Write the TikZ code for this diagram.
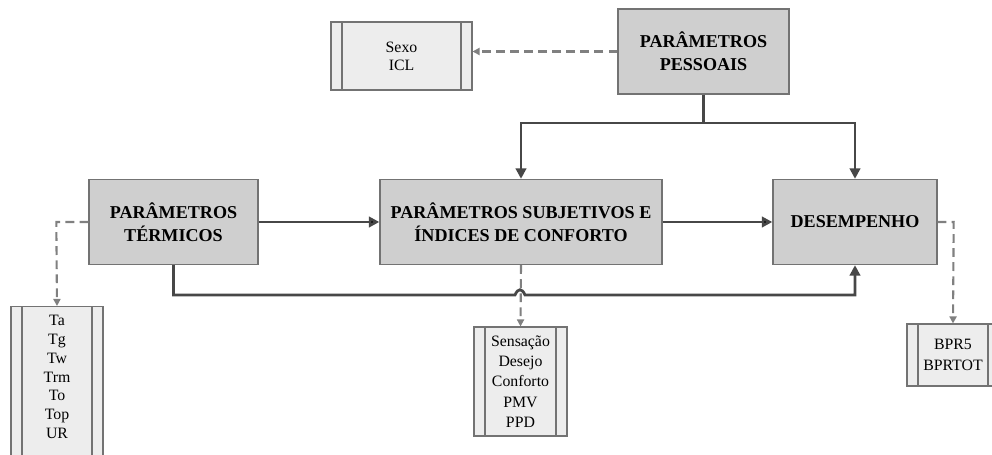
\documentclass[tikz,border=0pt]{standalone}
\usepackage{fontspec}
\setmainfont{Liberation Serif}
\usetikzlibrary{arrows.meta}

\tikzset{
    bloco/.style={draw=black!55, fill=black!19, line width=0.8pt, align=center,
        minimum height=1.7cm, font=\fontsize{10.3}{13}\selectfont\bfseries},
    lista/.style={draw=black!55, fill=black!7, line width=0.6pt, align=center,
        font=\fontsize{9}{11.5}\selectfont, inner ysep=1.5pt,
        path picture={
            \draw[black!55, line width=0.6pt]
                ([xshift=0.22cm]path picture bounding box.north west) --
                ([xshift=0.22cm]path picture bounding box.south west);
            \draw[black!55, line width=0.6pt]
                ([xshift=-0.22cm]path picture bounding box.north east) --
                ([xshift=-0.22cm]path picture bounding box.south east);
        }},
    seta/.style={draw=black!72, line width=1.6pt, -{Triangle[length=6pt,width=6pt]}},
    tracejada/.style={draw=black!50, line width=1.2pt, dash pattern=on 5pt off 3pt,
        -{Triangle[length=4pt,width=4pt]}}
}

\begin{document}
\begin{tikzpicture}[x=0.02cm, y=-0.02cm]
            \useasboundingbox (0,0) rectangle (992,455);
            \begin{scope}[every node/.style={bloco}]
                \node[minimum width=3.42cm] (pess) at (703.5,51.5) {PARÂMETROS\\PESSOAIS};
                \node[minimum width=3.38cm] (term) at (173.5,222) {PARÂMETROS\\TÉRMICOS};
                \node[minimum width=5.64cm] (subj) at (521,222) {PARÂMETROS SUBJETIVOS E\\ÍNDICES DE CONFORTO};
                \node[minimum width=3.28cm] (desemp) at (855,222) {DESEMPENHO};
            \end{scope}
            \begin{scope}[every node/.style={lista}]
                \node[minimum width=2.82cm, minimum height=1.36cm, font=\fontsize{9}{10.3}\selectfont] (sexo) at (401.5,56) {Sexo\\ICL};
                \node[minimum width=1.84cm, anchor=north, inner ysep=5pt, font=\fontsize{9}{10.7}\selectfont] (vars) at (57,306) {Ta\\Tg\\Tw\\Trm\\To\\Top\\UR\\\mbox{}\\\mbox{}};
                \node[minimum width=1.86cm, minimum height=2.18cm] (indices) at (520.5,381.5) {Sensação\\Desejo\\Conforto\\PMV\\PPD};
                \node[minimum width=1.84cm, minimum height=1.24cm] (bpr) at (953,355) {BPR5\\BPRTOT};
            \end{scope}

            % dashed links to the variable lists
            \draw[tracejada] (pess.west) -- (pess.west -| sexo.east);
            \draw[tracejada] (term.west) -- ++(-32,0) -- (vars.north);
            \draw[tracejada] (desemp.east) -- ++(16,0) -- (bpr.north);
            \draw[tracejada] (subj.south) -- (indices.north);

            % main flow
            \coordinate (split) at (703.5,123);
            \draw[draw=black!72, line width=1.6pt] (pess.south) -- (split);
            \draw[seta] (split) -| (subj.north);
            \draw[seta] (split) -| (desemp.north);
            \path [seta] (term) edge (subj);
            \path [seta] (subj) edge (desemp);
            \draw[seta] (term.south) |- (515,295) .. controls (518,288) and (522,288) .. (525,295) -| (desemp.south);
        \end{tikzpicture}
\end{document}
